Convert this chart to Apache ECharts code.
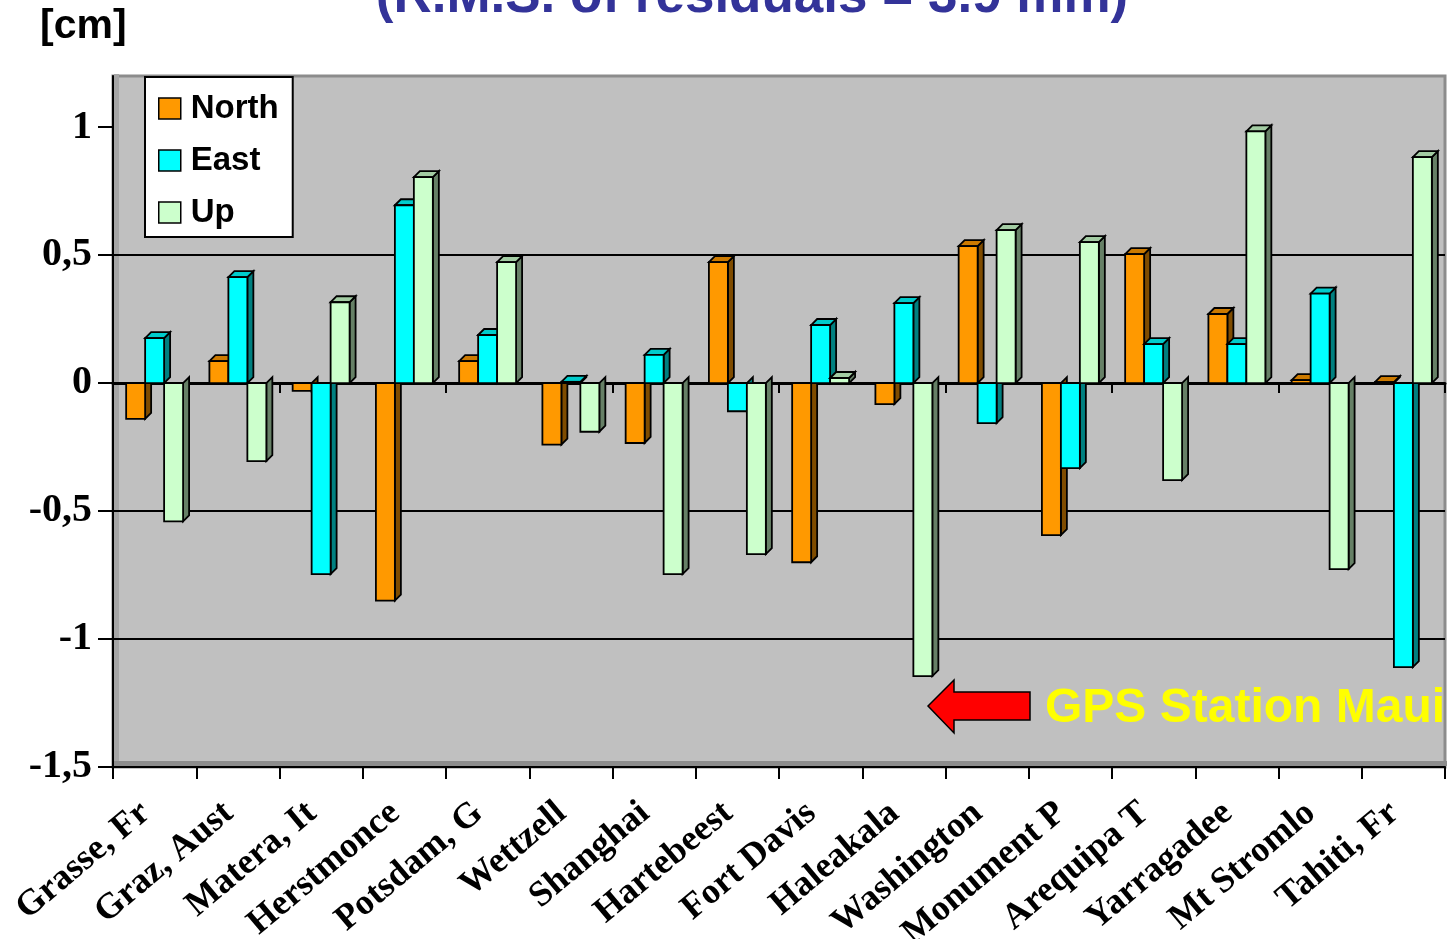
<!DOCTYPE html>
<html>
<head>
<meta charset="utf-8">
<script src="https://cdn.jsdelivr.net/npm/echarts@6/dist/echarts.min.js"></script>
<style>html,body{margin:0;padding:0;background:#fff;}#c{width:1447px;height:939px;}</style>
</head>
<body>
<div id="c"></div>
<script>
var categories = ['Grasse, Fr','Graz, Aust','Matera, It','Herstmonce','Potsdam, G','Wettzell','Shanghai','Hartebeest','Fort Davis','Haleakala','Washington','Monument P','Arequipa T','Yarragadee','Mt Stromlo','Tahiti, Fr'];
var northValues = [-0.14, 0.086, -0.03, -0.85, 0.086, -0.24, -0.234, 0.473, -0.70, -0.082, 0.535, -0.594, 0.504, 0.27, 0.012, 0.004];
var eastValues  = [0.176, 0.414, -0.746, 0.695, 0.188, 0.005, 0.11, -0.11, 0.227, 0.3125, -0.156, -0.332, 0.152, 0.152, 0.35, -1.11];
var upValues    = [-0.54, -0.305, 0.316, 0.805, 0.473, -0.19, -0.746, -0.668, 0.02, -1.145, 0.598, 0.551, -0.379, 0.984, -0.727, 0.883];
var yTickValues = [-1.5, -1, -0.5, 0, 0.5, 1];

var seriesDefs = [
  {name:'North', vals:northValues, face:'#FF9900', side:'#7F4C00', top:'#CC7A00'},
  {name:'East',  vals:eastValues,  face:'#00FFFF', side:'#008080', top:'#00CCCC'},
  {name:'Up',    vals:upValues,    face:'#CCFFCC', side:'#668066', top:'#A3CCA3'}
];

function render3D(k, def){
  return function(params, api){
    var i = api.value(0), v = api.value(1);
    var p0 = api.coord([i, 0]);
    var p1 = api.coord([i, v]);
    var cw = api.size([1, 0])[0];
    var bw = cw * 0.228;
    var x = p0[0] - 1.5 * bw + k * bw;
    var y0 = Math.min(p0[1], p1[1]), y1 = Math.max(p0[1], p1[1]);
    var d = 6;
    var ch = [];
    ch.push({type:'polygon', shape:{points:[[x+bw,y0],[x+bw+d,y0-d],[x+bw+d,y1-d],[x+bw,y1]]},
             style:{fill:def.side, stroke:'#000', lineWidth:1.8}});
    if (v > 0) {
      ch.push({type:'polygon', shape:{points:[[x,y0],[x+d,y0-d],[x+bw+d,y0-d],[x+bw,y0]]},
               style:{fill:def.top, stroke:'#000', lineWidth:1.8}});
    }
    ch.push({type:'rect', shape:{x:x, y:y0, width:bw, height:Math.max(y1-y0, 0.5)},
             style:{fill:def.face, stroke:'#000', lineWidth:1.8}});
    return {type:'group', children:ch};
  };
}

var series = seriesDefs.map(function(def, k){
  return {
    name: def.name,
    type: 'custom',
    xAxisIndex: 0,
    yAxisIndex: 0,
    itemStyle: {color: def.face, borderColor:'#000', borderWidth:1.5},
    encode: {x:0, y:1},
    data: def.vals.map(function(v, i){ return [i, v]; }),
    renderItem: render3D(k, def)
  };
});

var chart = echarts.init(document.getElementById('c'), null, {renderer:'canvas'});
chart.setOption({
  animation: false,
  backgroundColor: '#ffffff',
  grid: {left:113, right:2, top:76, bottom:172, containLabel:false, outerBoundsMode:'none',
         show:true, backgroundColor:'#C0C0C0', borderColor:'#8C8C8C', borderWidth:3},
  legend: {
    orient:'vertical', left:145, top:77,
    data: ['North','East','Up'],
    backgroundColor:'#ffffff', borderColor:'#000', borderWidth:2,
    padding:[15, 14, 8, 13],
    itemWidth:22, itemHeight:21, itemGap:19,
    icon:'rect',
    itemStyle:{borderColor:'#000', borderWidth:1.5},
    textStyle:{fontFamily:'Liberation Sans, Arial', fontWeight:'bold', fontSize:33, color:'#000', padding:[0,0,0,5]}
  },
  xAxis: [{
    type:'category', data:categories, position:'bottom',
    axisLine:{onZero:false, lineStyle:{color:'#000', width:2}},
    axisTick:{show:true, length:12, lineStyle:{color:'#000', width:2}},
    axisLabel:{rotate:40, margin:34, interval:0, padding:[0,12,0,0], fontFamily:'Liberation Serif, Times New Roman', fontWeight:'bold', fontSize:36, color:'#000'},
    splitLine:{show:false}
  },{
    type:'category', data:categories, position:'bottom',
    axisLine:{onZero:true, lineStyle:{color:'#000', width:3}},
    axisTick:{show:true, length:10, lineStyle:{color:'#000', width:2}},
    axisLabel:{show:false},
    splitLine:{show:false}
  }],
  yAxis: {
    type:'value', min:-1.5, max:1.2, interval:0.5,
    axisLine:{show:true, lineStyle:{color:'#000', width:2}},
    axisTick:{show:true, length:15, inside:false, customValues:yTickValues, lineStyle:{color:'#000', width:2}},
    axisLabel:{customValues:yTickValues, margin:21, fontFamily:'Liberation Serif, Times New Roman', fontWeight:'bold', fontSize:40, color:'#000',
      formatter:function(v){ return String(v).replace('.', ','); }},
    splitLine:{show:true, showMinLine:false, showMaxLine:false, lineStyle:{color:'#000', width:2}}
  },
  series: series,
  graphic: [
    {type:'rect', z:0, shape:{x:114, y:74, width:5, height:692}, style:{fill:'#A6A6A6'}},
    {type:'rect', z:0, shape:{x:114, y:761, width:1333, height:5}, style:{fill:'#8C8C8C'}},
    {type:'text', x:752, y:-29,
     style:{text:'(R.M.S. of residuals = 3.9 mm)', align:'center', fontFamily:'Liberation Sans, Arial', fontWeight:'bold', fontSize:53, fill:'#333399'}},
    {type:'text', left:40, top:6,
     style:{text:'[cm]', fontFamily:'Liberation Sans, Arial', fontWeight:'bold', fontSize:41, fill:'#000'}},
    {type:'polygon', z:10, shape:{points:[[928,706],[954,680],[954,692],[1030,692],[1030,720],[954,720],[954,733]]},
     style:{fill:'#FF0000', stroke:'#000', lineWidth:1.5}},
    {type:'text', z:10, left:1045, top:685,
     style:{text:'GPS Station Maui', fontFamily:'Liberation Sans, Arial', fontWeight:'bold', fontSize:48, fill:'#FFFF00'}}
  ]
});
</script>
</body>
</html>
